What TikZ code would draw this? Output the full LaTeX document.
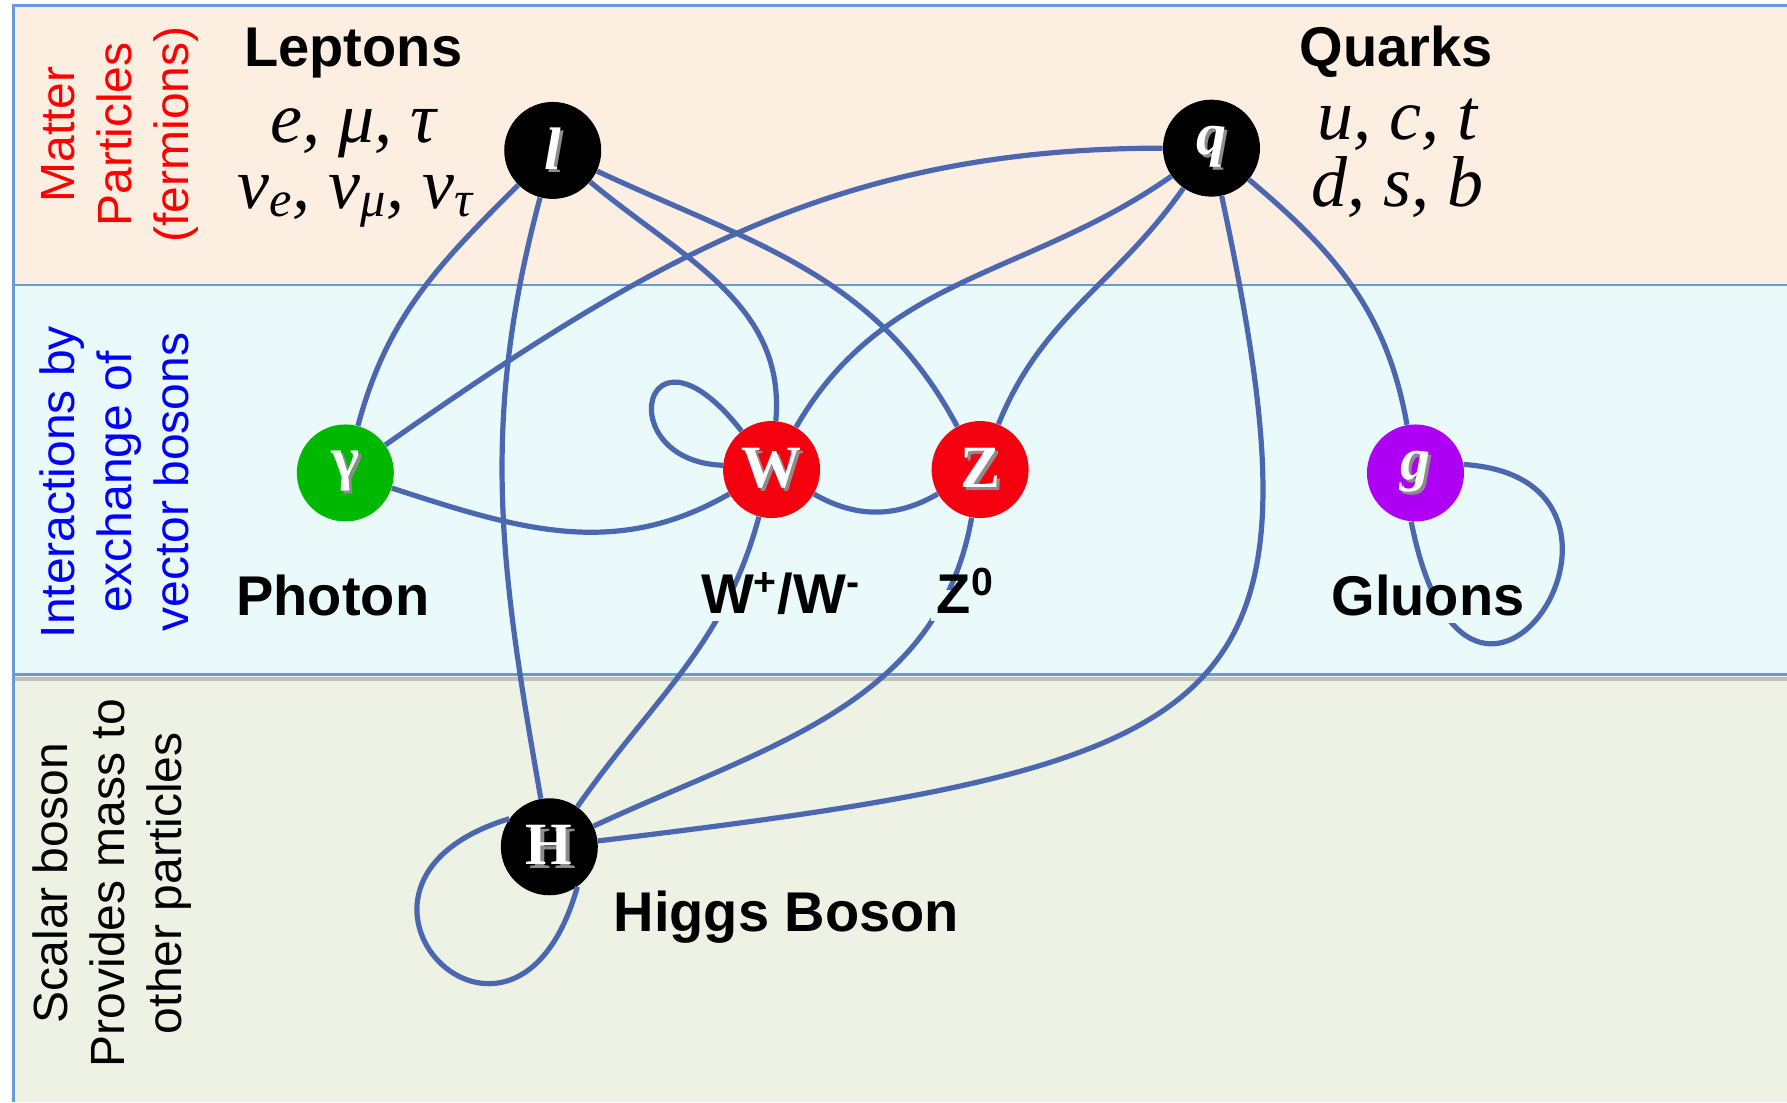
\documentclass[tikz,border=0pt]{standalone}
\usepackage{fontspec}
\setmainfont{Liberation Serif}
\setsansfont{Liberation Sans}
\usepackage{xcolor}
\usetikzlibrary{positioning}
\definecolor{matter}{HTML}{FDEEE2}
\definecolor{vector}{HTML}{EAFAFA}
\definecolor{scalar}{HTML}{EEF2E5}
\definecolor{frame}{HTML}{6A9AD4}
\definecolor{wire}{HTML}{4A67B0}
\definecolor{photongreen}{HTML}{00B800}
\definecolor{bosonred}{HTML}{F5000E}
\definecolor{gluonviolet}{HTML}{AE00F5}
\newcommand\glyph[1]{\makebox[0pt][l]{\hspace{1.6pt}\raisebox{-1.6pt}{\textcolor{black!45}{#1}}}\textcolor{white}{#1}}
\tikzset{
  particle/.style={circle,minimum size=48.5pt,inner sep=0pt,font=\fontsize{30}{30}\selectfont\bfseries},
  fermion/.style={particle,fill=black},
  family/.style={font=\sffamily\bfseries\fontsize{28}{28}\selectfont,anchor=base,inner sep=3pt},
  cover/.style={family,fill=vector,text height=0.85em,text depth=0.1em},
  flavours/.style={font=\itshape\fontsize{36}{36}\selectfont,anchor=base,inner sep=0pt},
  sidenote/.style={rotate=90,align=center,font=\sffamily\fontsize{24}{28.5}\selectfont},
  link/.style={draw=wire,line width=2.6pt},
  band/.style={draw=frame,line width=1.2pt}
}
\begin{document}
\begin{tikzpicture}[x=0.5698pt,y=0.5698pt]
\useasboundingbox (0,0) rectangle (1568,-967);
\fill[white] (0,0) rectangle (1568,-967);
% bands
\fill[matter] (12,-5) rectangle (1568,-250);
\fill[vector] (12,-250) rectangle (1568,-592);
\fill[scalar] (12,-592) rectangle (1568,-967);
\draw[black!25,line width=2pt] (12,-595.5) -- (1568,-595.5);
\draw[band] (1568,-5) -- (12,-5) -- (12,-967);
\draw[band] (12,-250) -- (1568,-250);
\draw[band] (12,-592) -- (1568,-592);

\node[sidenote,text=red] (matter-note) at (105,-118) {Matter\\Particles\\(fermions)};
\node[sidenote,text=blue] (vector-note) at (100,-423) {Interactions by\\exchange of\\vector bosons};
\node[sidenote,text=black] (scalar-note) at (98,-775) {Scalar boson\\Provides mass to\\other particles};

% particles
\node[fermion] (lepton) at (485,-132) {\glyph{\itshape l}};
\node[fermion] (quark) at (1063,-130) {\glyph{\itshape q}};
\node[particle,fill=photongreen] (photon) at (303,-415) {\glyph{γ}};
\node[particle,fill=bosonred] (wboson) at (677,-412) {\glyph{W}};
\node[particle,fill=bosonred] (zboson) at (860,-412) {\glyph{Z}};
\node[particle,fill=gluonviolet] (gluon) at (1242,-415) {\glyph{\itshape g}};
\node[fermion] (higgs) at (482,-743) {\glyph{H}};

% interactions
\draw[link] (lepton) to[out=225,in=75] (photon);
\draw[link] (lepton) to[out=255,in=100] (higgs);
\draw[link] (lepton) to[out=320,in=85] (wboson);
\draw[link] (lepton) to[out=335,in=118] (zboson);
\draw[link] (quark) to[out=180,in=35] (photon);
\draw[link] (quark) to[out=215,in=60] (wboson);
\draw[link] (quark) to[out=235,in=68] (zboson);
\draw[link] (quark) .. controls (1169,-627) and (1098,-669) .. (higgs);
\draw[link] (quark) to[out=320,in=100] (gluon);
\draw[link] (photon) to[out=342,in=210] (wboson);
\draw[link] (wboson) to[out=330,in=210] (zboson);
\draw[link] (wboson.128) .. controls +(128:140) and +(178:100) .. (wboson.175);
\draw[link] (wboson) to[out=255,in=55] (higgs);
\draw[link] (zboson) to[out=260,in=25] (higgs);
\draw[link] (higgs.145) .. controls (258,-776) and (451,-975) .. (higgs.305);
\draw[link] (gluon.10) .. controls (1480,-420) and (1290,-720) .. (gluon.265);

% labels
\node[family] (leptons) at (310,-58) {Leptons};
\node[family] (quarks) at (1225,-58) {Quarks};
\node[flavours] (lepton-flav) at (310,-125) {e, μ, τ};
\node[flavours] (neutrino-flav) at (312,-183) {ν\textsubscript{e}, ν\textsubscript{μ}, ν\textsubscript{τ}};
\node[flavours] (up-flav) at (1226,-122) {u, c, t};
\node[flavours] (down-flav) at (1226,-181) {d, s, b};
\node[family] (photon-lbl) at (292,-540) {Photon};
\node[cover] (w-lbl) at (685,-538) {W\textsuperscript{+}/W\textsuperscript{-}};
\node[cover] (z-lbl) at (847,-538) {Z\textsuperscript{0}};
\node[cover] (g-lbl) at (1253,-540) {Gluons};
\node[family] (h-lbl) at (690,-817) {Higgs Boson};
\end{tikzpicture}
\end{document}
